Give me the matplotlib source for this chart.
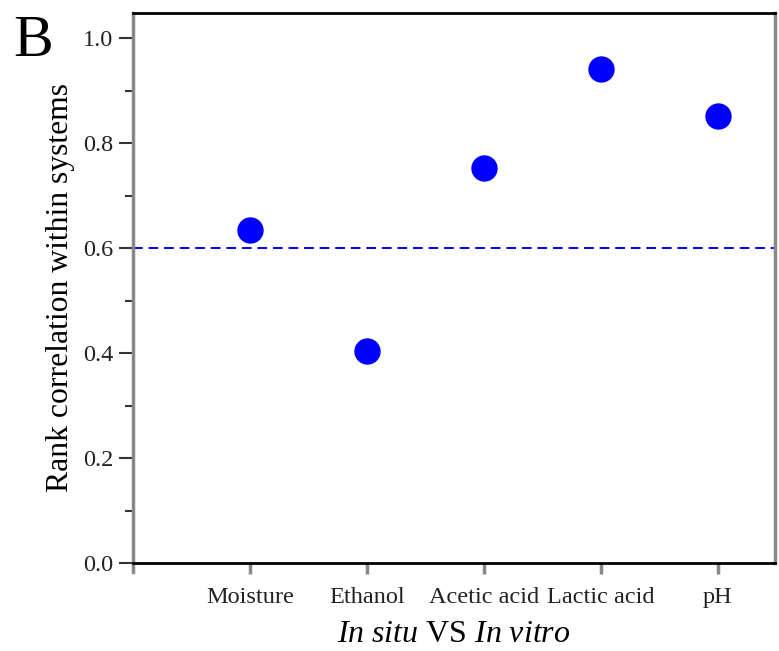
import matplotlib
matplotlib.use("Agg")
import matplotlib.pyplot as plt
from matplotlib.ticker import MultipleLocator

categories = ["Moisture", "Ethanol", "Acetic acid", "Lactic acid", "pH"]
values = [0.635, 0.404, 0.752, 0.942, 0.851]
threshold = 0.6
yticks = [0.0, 0.2, 0.4, 0.6, 0.8, 1.0]

plt.rcParams['font.family'] = ['Liberation Serif', 'DejaVu Serif']
plt.rcParams['mathtext.fontset'] = 'custom'
plt.rcParams['mathtext.rm'] = 'Liberation Serif'
plt.rcParams['mathtext.it'] = 'Liberation Serif:italic'

fig = plt.figure(figsize=(7.79, 6.51), dpi=100)
ax = fig.add_axes([133 / 779, 1 - 563 / 651, (775 - 133) / 779, (563 - 13) / 651])

x = list(range(1, len(categories) + 1))
ax.scatter(x, values, s=360, color="#0000ff", zorder=3, linewidths=0)
ax.axhline(threshold, color="#0000ff", linestyle=(0, (5, 3)), linewidth=1.4, zorder=2)

ax.set_xlim(0, 5.49)
ax.set_ylim(0, 1.048)
ax.set_xticks(x)
ax.set_xticklabels(categories, fontsize=17.5, color="#222222")
ax.set_yticks(yticks)
ax.set_yticklabels([f"{v:.1f}" for v in yticks], fontsize=17.5, color="#222222")
ax.yaxis.set_minor_locator(MultipleLocator(0.1))

ax.tick_params(axis='y', which='major', direction='out', length=10, width=1.5, color="#333333", pad=4)
ax.tick_params(axis='y', which='minor', direction='out', length=6, width=1.5, color="#333333")
ax.tick_params(axis='x', which='major', direction='out', length=8, width=2.5, color="#888888", pad=9)

for side in ['left', 'right']:
    ax.spines[side].set_color("#888888")
    ax.spines[side].set_linewidth(2.5)
for side in ['top', 'bottom']:
    ax.spines[side].set_color("#000000")
    ax.spines[side].set_linewidth(2.0)
ax.spines['left'].set_bounds(-0.017, 1.048)

ax.set_ylabel("Rank correlation within systems", fontsize=22.8, labelpad=6)
ax.set_xlabel(r"$\mathit{In\ situ}$ VS $\mathit{In\ vitro}$", fontsize=23, labelpad=9)

fig.text(13 / 779, 1 - 56 / 651, "B", fontsize=43, ha='left', va='baseline')

fig.savefig("out.png", dpi=100)
